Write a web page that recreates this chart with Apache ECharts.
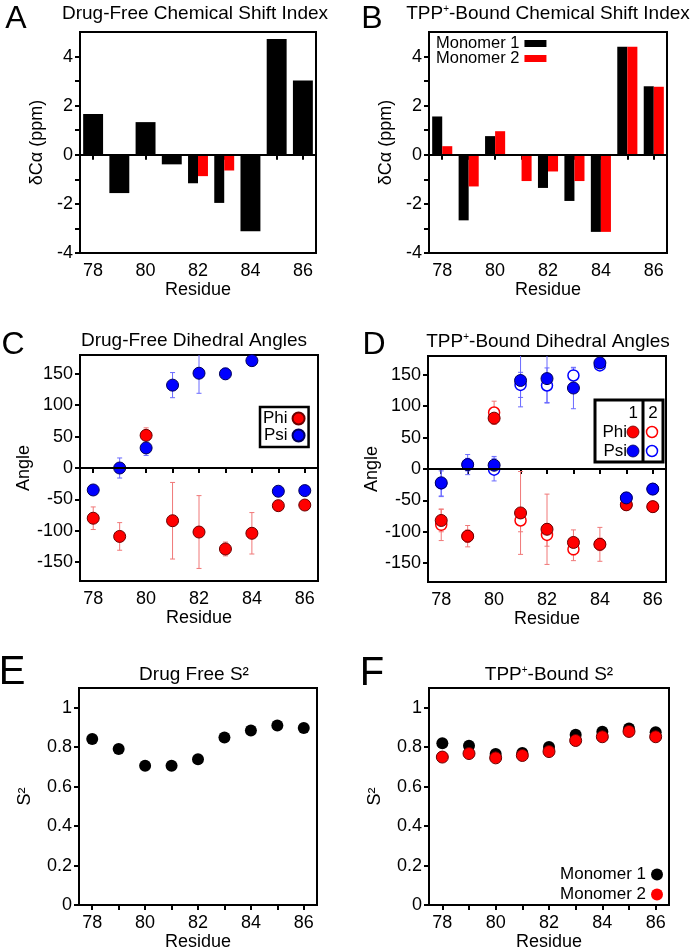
<!DOCTYPE html>
<html>
<head>
<meta charset="utf-8">
<script src="https://cdn.jsdelivr.net/npm/echarts@6/dist/echarts.min.js"></script>
<style>html,body{margin:0;padding:0;background:#fff;}#c{width:693px;height:952px;}</style>
</head>
<body>
<div id="c"></div>
<script>
// ---------- data ----------
const residues = ['78','79','80','81','82','83','84','85','86'];

// A: drug-free chemical shift index (monomer 2 only resolved at 82, 83)
const csiFreeM1 = [1.66, -1.56, 1.33, -0.39, -1.16, -1.96, -3.11, 4.71, 3.02];
const csiFreeM2 = [null, null, null, null, -0.87, -0.64, null, null, null];
// B: TPP+-bound chemical shift index
const csiBoundM1 = [1.56, -2.67, 0.76, -0.04, -1.35, -1.88, -3.14, 4.40, 2.79];
const csiBoundM2 = [0.35, -1.29, 0.96, -1.07, -0.68, -1.07, -3.14, 4.40, 2.77];
const csiTicks = [-4, -3, -2, -1, 0, 1, 2, 3, 4];
const csiLabels = [-4, -2, 0, 2, 4];

// C: drug-free dihedral angles
const phiFree    = [-80, -109, 52, -84, -102, -129, -104, -60, -59];
const phiFreeErr = [18, 22, 12, 61, 58, 11, 33, 3, 3];
const psiFree    = [-35, 0, 32, 132, 151, 150, 171, -37, -36];
const psiFreeErr = [5, 16, 12, 20, 32, 9, 5, 4, 6];
// D: TPP+-bound dihedral angles (1 = monomer 1, 2 = monomer 2)
const phiBound1    = [-82, -107, 81, -70, -96, -117, -120, -57, -60];
const phiBound1Err = [18, 10, 10, 66, 56, 20, 27, 3, 3];
const phiBound2    = [-89, -107, 90, -82, -105, -128, -120, -57, -60];
const phiBound2Err = [25, 17, 18, 18, 18, 18, 10, 3, 3];
const psiBound1    = [-22, 7, 6, 141, 144, 129, 169, -46, -32];
const psiBound1Err = [22, 16, 14, 42, 38, 33, 8, 4, 8];
const psiBound2    = [-23, 7, -1, 134, 133, 149, 165, -46, -32];
const psiBound2Err = [20, 10, 18, 20, 28, 12, 8, 4, 6];
const angleTicks = [-150, -100, -50, 0, 50, 100, 150];

// E, F: order parameters
const s2Free   = [0.841, 0.791, 0.706, 0.706, 0.739, 0.849, 0.885, 0.910, 0.897];
const s2Bound1 = [0.820, 0.807, 0.766, 0.771, 0.801, 0.863, 0.878, 0.895, 0.876];
const s2Bound2 = [0.750, 0.768, 0.746, 0.758, 0.778, 0.834, 0.853, 0.880, 0.853];
const s2Ticks = [0, 0.2, 0.4, 0.6, 0.8, 1];

// ---------- styling ----------
const FONT = '"Liberation Sans", Arial, sans-serif';
const RED = '#ff0000', BLUE = '#0000ff', BLACK = '#000000';
const RED_ERR = '#f07878', BLUE_ERR = '#6a6aff';

const grids = [
  {left: 80,  top: 32,  width: 236, height: 221},
  {left: 429, top: 32,  width: 238, height: 221},
  {left: 80,  top: 355, width: 238, height: 226},
  {left: 428, top: 356, width: 238, height: 226},
  {left: 79,  top: 688, width: 238, height: 223},
  {left: 429, top: 688, width: 240, height: 222}
].map(g => Object.assign({show: true, borderColor: '#000', borderWidth: 2, backgroundColor: 'transparent'}, g));

function xCat(gridIndex, extra) {
  return Object.assign({
    type: 'category', gridIndex, data: residues, boundaryGap: true,
    axisLine: {lineStyle: {color: '#000', width: 2}},
    axisTick: {show: true, alignWithLabel: true, interval: 0, length: 5, lineStyle: {width: 2, color: '#000'}},
    axisLabel: {interval: 1, color: '#000', fontFamily: FONT, fontSize: 18, margin: 9},
    name: 'Residue', nameLocation: 'middle', nameGap: 25,
    nameTextStyle: {color: '#000', fontFamily: FONT, fontSize: 18},
    splitLine: {show: false}
  }, extra || {});
}
function yVal(gridIndex, min, max, ticks, labels, name, nameGap) {
  return {
    type: 'value', gridIndex, min, max,
    axisLine: {show: true, lineStyle: {color: '#000', width: 2}},
    axisTick: {show: true, length: 5, customValues: ticks, lineStyle: {width: 2, color: '#000'}},
    axisLabel: {customValues: labels, color: '#000', fontFamily: FONT, fontSize: 18, margin: 7},
    splitLine: {show: false},
    name, nameLocation: 'middle', nameGap,
    nameTextStyle: {color: '#000', fontFamily: FONT, fontSize: 18}
  };
}

const xAxes = [0,1,2,3,4,5].map(i => xCat(i));
xAxes.push(xCat(0, {show: false}));   // helper axis for split bars in panel A
const yAxes = [
  yVal(0, -4, 5, csiTicks, csiLabels, 'δCα (ppm)', 34),
  yVal(1, -4, 5, csiTicks, csiLabels, 'δCα (ppm)', 34),
  yVal(2, -180, 180, angleTicks, angleTicks, 'Angle', 46),
  yVal(3, -180, 180, angleTicks, angleTicks, 'Angle', 46),
  yVal(4, 0, 1.1, s2Ticks, s2Ticks, 'S²', 45),
  yVal(5, 0, 1.1, s2Ticks, s2Ticks, 'S²', 45)
];

const zeroLine = {
  silent: true, symbol: 'none', label: {show: false},
  lineStyle: {color: '#000', width: 2, type: 'solid'},
  data: [{yAxis: 0}], animation: false
};

function errData(vals, errs) {
  const out = [];
  vals.forEach((v, i) => { if (v != null) out.push([i, v - errs[i], v + errs[i]]); });
  return out;
}
function errRender(color) {
  return function (params, api) {
    const cs = params.coordSys;
    const i = api.value(0);
    const lo = api.coord([i, api.value(1)]);
    const hi = api.coord([i, api.value(2)]);
    const top = cs.y, bottom = cs.y + cs.height;
    const x = lo[0], cw = 2.5;
    const y1 = Math.min(lo[1], bottom), y2 = Math.max(hi[1], top);
    const st = {stroke: color, lineWidth: 1};
    const ch = [{type: 'line', shape: {x1: x, y1: y1, x2: x, y2: y2}, style: st}];
    if (lo[1] <= bottom) ch.push({type: 'line', shape: {x1: x - cw, y1: lo[1], x2: x + cw, y2: lo[1]}, style: st});
    if (hi[1] >= top) ch.push({type: 'line', shape: {x1: x - cw, y1: hi[1], x2: x + cw, y2: hi[1]}, style: st});
    return {type: 'group', children: ch};
  };
}
function errSeries(name, grid, vals, errs, color, withZero) {
  const s = {
    name, type: 'custom', xAxisIndex: grid, yAxisIndex: grid, z: 1,
    renderItem: errRender(color), encode: {x: 0, y: [1, 2]},
    data: errData(vals, errs), silent: true
  };
  if (withZero) s.markLine = zeroLine;
  return s;
}
function dots(name, grid, vals, color, border, z, hollow) {
  return {
    name, type: 'scatter', xAxisIndex: grid, yAxisIndex: grid, z,
    symbol: 'circle', symbolSize: hollow ? 11 : 12,
    itemStyle: hollow ? {color: '#ffffff', borderColor: color, borderWidth: 1.5, opacity: 1}
                      : {color, borderColor: border, borderWidth: border ? 1 : 0, opacity: 1},
    data: vals
  };
}

const series = [
  // A
  {name: 'A full', type: 'bar', xAxisIndex: 0, yAxisIndex: 0, barWidth: '76%', itemStyle: {color: BLACK},
   data: csiFreeM1.map((v, i) => csiFreeM2[i] == null ? v : null), markLine: zeroLine},
  {name: 'A m1', type: 'bar', xAxisIndex: 6, yAxisIndex: 0, barWidth: '38%', barGap: '0%', itemStyle: {color: BLACK},
   data: csiFreeM1.map((v, i) => csiFreeM2[i] == null ? null : v)},
  {name: 'A m2', type: 'bar', xAxisIndex: 6, yAxisIndex: 0, barWidth: '38%', barGap: '0%', itemStyle: {color: RED},
   data: csiFreeM2},
  // B
  {name: 'Monomer 1', type: 'bar', xAxisIndex: 1, yAxisIndex: 1, barWidth: '38%', barGap: '0%', itemStyle: {color: BLACK},
   data: csiBoundM1, markLine: zeroLine},
  {name: 'Monomer 2', type: 'bar', xAxisIndex: 1, yAxisIndex: 1, barWidth: '38%', barGap: '0%', itemStyle: {color: RED},
   data: csiBoundM2},
  // C
  errSeries('C phi err', 2, phiFree, phiFreeErr, RED_ERR, true),
  errSeries('C psi err', 2, psiFree, psiFreeErr, BLUE_ERR, false),
  dots('Phi', 2, phiFree, RED, '#6a0000', 3),
  dots('Psi', 2, psiFree, BLUE, '#00005a', 3),
  // D
  errSeries('D phi2 err', 3, phiBound2, phiBound2Err, RED_ERR, true),
  errSeries('D psi2 err', 3, psiBound2, psiBound2Err, BLUE_ERR, false),
  errSeries('D phi1 err', 3, phiBound1, phiBound1Err, RED_ERR, false),
  errSeries('D psi1 err', 3, psiBound1, psiBound1Err, BLUE_ERR, false),
  dots('D phi 2', 3, phiBound2, RED, null, 3, true),
  dots('D psi 2', 3, psiBound2, BLUE, null, 3, true),
  dots('D phi 1', 3, phiBound1, RED, '#6a0000', 4),
  dots('D psi 1', 3, psiBound1, BLUE, '#00005a', 4),
  // E
  dots('E free', 4, s2Free, BLACK, null, 3),
  // F
  dots('Monomer 1', 5, s2Bound1, BLACK, null, 3),
  dots('Monomer 2', 5, s2Bound2, RED, '#6a0000', 4)
];

const legTxt = {color: '#000', fontFamily: FONT, fontSize: 16.5};
const legends = [
  {left: 436, top: 35, padding: 0, data: [{name: 'Monomer 1', icon: 'rect', itemStyle: {color: BLACK}}],
   align: 'right', itemWidth: 22, itemHeight: 7, textStyle: legTxt, selectedMode: false},
  {left: 436, top: 50, padding: 0, data: [{name: 'Monomer 2', icon: 'rect', itemStyle: {color: RED}}],
   align: 'right', itemWidth: 22, itemHeight: 7, textStyle: legTxt, selectedMode: false},
  {left: 260, top: 407, orient: 'vertical', align: 'right', padding: [3, 3, 3, 3], itemGap: 0,
   data: [{name: 'Phi', icon: 'circle'}, {name: 'Psi', icon: 'circle'}],
   itemWidth: 12, itemHeight: 12, textStyle: Object.assign({}, legTxt, {fontSize: 17, lineHeight: 16}),
   borderColor: '#000', borderWidth: 2.5, backgroundColor: '#fff', selectedMode: false},
  {right: 30, top: 866, padding: 0, data: [{name: 'Monomer 1', icon: 'circle', itemStyle: {color: BLACK}}],
   align: 'right', itemWidth: 12, itemHeight: 12, textStyle: Object.assign({}, legTxt, {fontSize: 17}), selectedMode: false},
  {right: 30, top: 886, padding: 0, data: [{name: 'Monomer 2', icon: 'circle', itemStyle: {color: RED}}],
   align: 'right', itemWidth: 12, itemHeight: 12, textStyle: Object.assign({}, legTxt, {fontSize: 17}), selectedMode: false}
];

// titles, panel letters, and legend box for panel D
const rich = {
  n: {fontFamily: FONT, fontSize: 19, fill: '#000'},
  s: {fontFamily: FONT, fontSize: 10, fill: '#000', padding: [0, 0, 9, 0]}
};
function title(x, y, text) {
  return {type: 'text', x, y, silent: true,
    style: {text, rich, font: '19px ' + FONT, fill: '#000', align: 'center', verticalAlign: 'middle'}};
}
function letter(x, y, t, size) {
  return {type: 'text', x, y, silent: true,
    style: {text: t, font: size + 'px ' + FONT, fill: '#000', align: 'center', verticalAlign: 'middle'}};
}
function ltext(x, y, t, align) {
  return {type: 'text', x, y, silent: true, z: 10,
    style: {text: t, font: '17px ' + FONT, fill: '#000', align, verticalAlign: 'middle'}};
}
function lcirc(x, y, fill, stroke) {
  return {type: 'circle', shape: {cx: x, cy: y, r: fill ? 6 : 5.5}, silent: true, z: 10,
    style: {fill: fill || '#fff', stroke, lineWidth: fill ? 0.8 : 1.5}};
}
const graphic = [
  title(195, 14, '{n|Drug-Free Chemical Shift Index}'),
  title(548, 14, '{n|TPP}{s|+}{n|-Bound Chemical Shift Index}'),
  title(194, 341, '{n|Drug-Free Dihedral Angles}'),
  title(548, 342, '{n|TPP}{s|+}{n|-Bound Dihedral Angles}'),
  title(194, 675, '{n|Drug Free S²}'),
  title(549, 675, '{n|TPP}{s|+}{n|-Bound S²}'),
  letter(16, 19, 'A', 32), letter(372, 19, 'B', 32),
  letter(13, 345, 'C', 32), letter(374, 345, 'D', 32),
  letter(12, 673, 'E', 40), letter(372, 674, 'F', 40),
  {type: 'rect', shape: {x: 595, y: 400, width: 68, height: 62}, z: 9, silent: true,
   style: {fill: '#fff', stroke: '#000', lineWidth: 3}},
  {type: 'line', shape: {x1: 643, y1: 400, x2: 643, y2: 462}, z: 10, silent: true,
   style: {stroke: '#000', lineWidth: 3}},
  ltext(638, 413, '1', 'right'), ltext(653, 413, '2', 'center'),
  ltext(627, 432, 'Phi', 'right'), ltext(627, 451, 'Psi', 'right'),
  lcirc(633, 432, RED, '#6a0000'), lcirc(652, 432, null, RED),
  lcirc(633, 451, BLUE, '#00005a'), lcirc(652, 451, null, BLUE)
];

const chart = echarts.init(document.getElementById('c'), null, {renderer: 'canvas'});
chart.setOption({
  animation: false,
  backgroundColor: '#fff',
  textStyle: {fontFamily: FONT},
  grid: grids, xAxis: xAxes, yAxis: yAxes,
  legend: legends, series, graphic
});
</script>
</body>
</html>
